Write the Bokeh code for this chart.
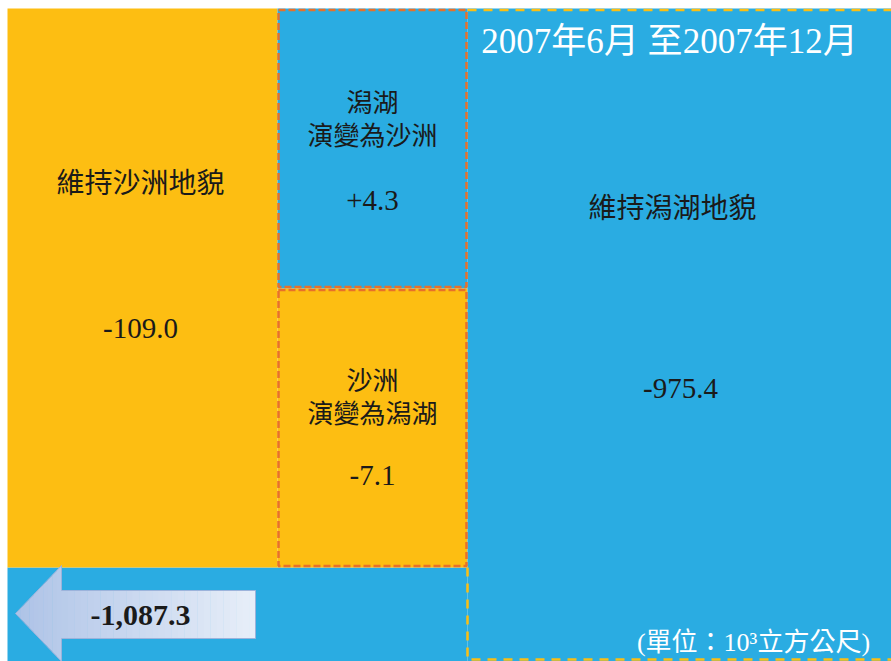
from bokeh.plotting import figure
from bokeh.models import Range1d
from bokeh.core.properties import value
from bokeh.embed import file_html
from bokeh.resources import INLINE

# ---------------- data ----------------
categories = ["維持沙洲地貌", "潟湖\n演變為沙洲", "沙洲\n演變為潟湖", "維持潟湖地貌"]
values = [-109.0, 4.3, -7.1, -975.4]
total_value = -1087.3
period_title = "2007年6月 至2007年12月"
unit_note = "(單位：10³立方公尺)"

def fmt(v, signed=False):
    if signed and v > 0:
        return f"+{v:,.1f}"
    return f"{v:,.1f}"

value_labels = [fmt(v, signed=True) for v in values]
total_label = fmt(total_value)

# ---------------- layout (pixels inside the figure) ----------------
W, H = 891, 661
YELLOW = "#FDBE12"
BLUE = "#2AACE2"
ORANGE = "#E8702A"
TEXT = "#1a1a1a"
CJK = "Noto Sans CJK TC"
SERIF = "Liberation Serif"

# cell boxes: (left, right, top, bottom, fill)
cells = [
    (7, 277, 8, 567, YELLOW),      # 維持沙洲地貌
    (277, 467, 8, 288, BLUE),      # 潟湖 演變為沙洲
    (277, 467, 288, 567, YELLOW),  # 沙洲 演變為潟湖
    (467, W, 8, H, BLUE),          # 維持潟湖地貌
]
label_pos = [(140, 180), (372, 116), (372, 394), (672, 205)]
label_size = ["28px", "26px", "26px", "28px"]
line_gap = 33
value_pos = [(140, 328), (372, 200), (372, 475), (680, 388)]

p = figure(width=W, height=H, x_range=Range1d(0, W), y_range=Range1d(H, 0),
           toolbar_location=None, output_backend="svg", min_border=0,
           background_fill_color="white", border_fill_color="white")
p.axis.visible = False
p.grid.visible = False
p.outline_line_color = None

# bottom-left strip
p.quad(left=[7], right=[467], top=[567], bottom=[H], fill_color=BLUE, line_color=None)

# cells
p.quad(left=[c[0] for c in cells], right=[c[1] for c in cells],
       top=[c[2] for c in cells], bottom=[c[3] for c in cells],
       fill_color=[c[4] for c in cells], line_color=None)

# yellow dashed frame of the right region
p.line(x=[467, 467, W + 2], y=[567, 659, 659], line_color=YELLOW, line_width=2.5, line_dash="9 7")
p.line(x=[467, W + 2], y=[9.5, 9.5], line_color=YELLOW, line_width=2.5, line_dash="9 7")

# orange dashed frames of the two transition cells
for (l, r, t, b, _) in cells[1:3]:
    p.quad(left=[l + 1], right=[r - 1], top=[t + 1.5], bottom=[b - 1.5],
           fill_color=None, line_color=ORANGE, line_width=2.5, line_dash="7 3")

# ---------------- arrow with horizontal gradient ----------------
tip_x, tip_y = 15, 613
head_x, head_half = 61, 48
shaft_r, shaft_t, shaft_b = 255, 590, 638
c0 = (0xAE, 0xC3, 0xE7)
c1 = (0xE8, 0xEF, 0xF9)

def col(x):
    t = (x - tip_x) / (shaft_r - tip_x)
    return "#%02x%02x%02x" % tuple(int(a + (b - a) * t) for a, b in zip(c0, c1))

xs_list, ys_list, cols = [], [], []
nh = 10
for i in range(nh):
    x0 = tip_x + (head_x - tip_x) * i / nh
    x1 = tip_x + (head_x - tip_x) * (i + 1) / nh
    h0 = head_half * (x0 - tip_x) / (head_x - tip_x)
    h1 = head_half * (x1 - tip_x) / (head_x - tip_x)
    xs_list.append([x0, x1 + 0.5, x1 + 0.5, x0])
    ys_list.append([tip_y - h0, tip_y - h1, tip_y + h1, tip_y + h0])
    cols.append(col((x0 + x1) / 2))
ns = 30
for i in range(ns):
    x0 = head_x + (shaft_r - head_x) * i / ns
    x1 = head_x + (shaft_r - head_x) * (i + 1) / ns
    ext = 0.5 if i < ns - 1 else 0
    xs_list.append([x0, x1 + ext, x1 + ext, x0])
    ys_list.append([shaft_t, shaft_t, shaft_b, shaft_b])
    cols.append(col((x0 + x1) / 2))
p.patches(xs=xs_list, ys=ys_list, fill_color=cols, line_color=None)
p.patch(x=[tip_x, head_x, head_x, shaft_r, shaft_r, head_x, head_x],
        y=[tip_y, tip_y - head_half, shaft_t, shaft_t, shaft_b, shaft_b, tip_y + head_half],
        fill_color=None, line_color="#9CB3DB", line_width=1)

p.text(x=[140], y=[615], text=[total_label], text_font=value(SERIF), text_font_size="30px",
       text_font_style="bold", text_color=TEXT, text_align="center", text_baseline="middle")

# ---------------- texts ----------------
for (x, y), lab, fs in zip(label_pos, categories, label_size):
    lines = lab.split("\n")
    n = len(lines)
    for k, line in enumerate(lines):
        yy = y + (k - (n - 1) / 2) * line_gap
        p.text(x=[x], y=[yy], text=[line], text_font=value(CJK), text_font_size=fs,
               text_color=TEXT, text_align="center", text_baseline="middle")
p.text(x=[v[0] for v in value_pos], y=[v[1] for v in value_pos], text=value_labels,
       text_font=value(SERIF), text_font_size="29px", text_color=TEXT,
       text_align="center", text_baseline="middle")

p.text(x=[669], y=[41], text=[period_title], text_font=value(f"{SERIF}, {CJK}"),
       text_font_size="35px", text_color="white", text_align="center", text_baseline="middle")
p.text(x=[753], y=[642], text=[unit_note], text_font=value(f"{SERIF}, {CJK}"),
       text_font_size="26px", text_color="white", text_align="center", text_baseline="middle")

open("out.html", "w").write(file_html(p, INLINE))
